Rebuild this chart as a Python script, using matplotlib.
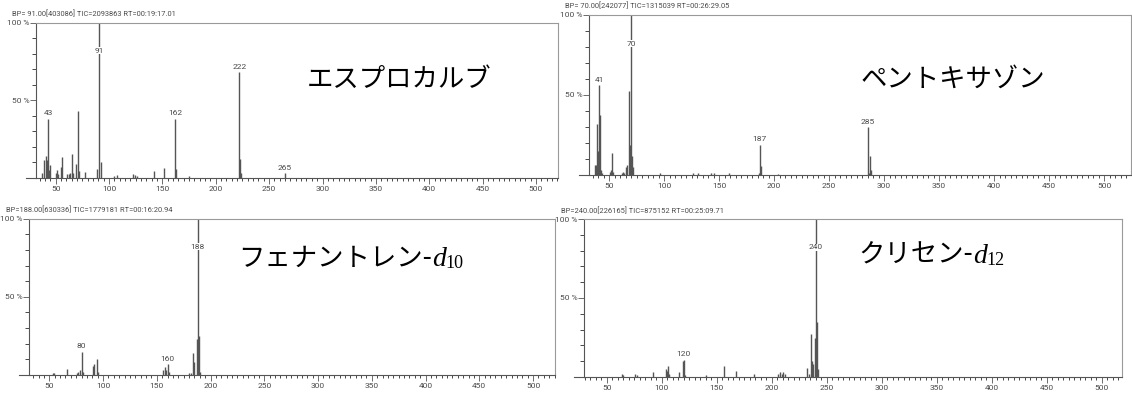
"""
Espectros de masas EI de cuatro compuestos (esprocarb, pentoxazona,
fenantreno-d10, criseno-d12), en el estilo de la salida del GC/MS.
"""
import numpy as np
import matplotlib; matplotlib.use("Agg")
import matplotlib.pyplot as plt
from matplotlib.ticker import MultipleLocator

W, H = 1132, 396

# ---- esprocarb ----
mz_a = [37, 39, 41, 42, 43, 44, 45, 50, 51, 52, 55, 56, 61, 62, 63, 65, 66, 69, 71, 72,
        77, 89, 91, 92, 105, 107, 122, 124, 126, 142, 151, 162, 163, 175, 222, 223, 224, 265]
ri_a = [3, 11, 14, 11, 38, 5, 8, 3, 5, 2, 7, 13, 2, 2, 3, 15, 3, 9, 43, 4.5,
        3.4, 5.5, 100, 10, 1, 1.5, 2, 1.5, 1, 4.3, 6.2, 38, 5.4, 1, 68, 12, 3, 3]
lab_a = [43, 91, 162, 222, 265]
hdr_a = "BP= 91.00[403086] TIC=2093863 RT=00:19:17.01"
name_a = "エスプロカルブ"

# ---- pentoxazone ----
mz_b = [37, 38, 39, 40, 41, 42, 43, 44, 51, 52, 53, 54, 62, 63, 64, 65, 66, 68, 69, 70,
        71, 72, 96, 126, 131, 143, 145, 159, 186, 187, 188, 204, 285, 286, 287, 288]
ri_b = [6, 6, 32, 15, 56, 37.5, 3, 1, 2, 3, 13.7, 2, 1, 2, 1, 5, 6, 52.7, 19, 100,
        12, 5, 1.5, 1, 1, 1, 1, 1, 1.5, 19, 5.6, 0.5, 30, 1, 12, 3]
lab_b = [41, 70, 187, 285]
hdr_b = "BP= 70.00[242077] TIC=1315039 RT=00:26:29.05"
name_b = "ペントキサゾン"

# ---- phenanthrene-d10 ----
mz_c = [53, 54, 66, 76, 77, 79, 80, 81, 91, 92, 94, 95, 156, 158, 159, 160, 161,
        180, 182, 184, 185, 187, 188, 189, 190]
ri_c = [1, 1, 3.6, 1, 2, 3, 15, 2, 6, 7, 10, 2, 3, 5, 3, 7, 2,
        1, 1, 14, 8, 23, 100, 25, 2]
lab_c = [80, 160, 188]
hdr_c = "BP=188.00[630336] TIC=1779181 RT=00:16:20.94"
name_c = "フェナントレン-"

# ---- chrysene-d12 ----
mz_d = [64, 65, 76, 78, 92, 104, 105, 106, 107, 116, 119, 120, 121, 140, 157, 168, 184,
        206, 208, 209, 210, 212, 232, 234, 236, 237, 238, 239, 240, 241, 242]
ri_d = [2, 1, 2, 1, 3, 5, 4, 7, 2, 3, 10, 11, 1, 1, 7, 4, 2,
        2, 3, 2, 3, 2, 6, 2, 27, 10, 8, 25, 100, 35, 5]
lab_d = [120, 240]
hdr_d = "BP=240.00[226165] TIC=875152 RT=00:25:09.71"
name_d = "クリセン-"

SMALL = ["Liberation Sans Narrow", "Roboto", "DejaVu Sans"]
JP = ["Noto Sans CJK JP", "DejaVu Sans"]
SERIF = ["Liberation Serif", "DejaVu Serif"]
plt.rcParams["font.family"] = SMALL
GREY = "#4a4a4a"

fig = plt.figure(figsize=(W/100, H/100), dpi=100)


def panel(rect, xlim, mz, ri, labels, header, hxy):
    x0, y0, x1, y1 = rect
    ax = fig.add_axes([x0/W, 1 - y1/H, (x1 - x0)/W, (y1 - y0)/H])
    ax.vlines(mz, 0, ri, color="#555555", lw=1.0)
    ax.set_xlim(*xlim); ax.set_ylim(0, 100)
    for m in labels:
        r = ri[mz.index(m)]
        if r >= 99:
            ax.text(m, 82, str(m), ha="center", va="center", fontsize=6, color=GREY,
                    bbox=dict(fc="white", ec="none", pad=0.4))
        else:
            ax.text(m, r + 1.5, str(m), ha="center", va="bottom", fontsize=6, color=GREY)
    ax.xaxis.set_major_locator(MultipleLocator(50))
    ax.xaxis.set_minor_locator(MultipleLocator(5))
    ax.set_yticks([50, 100], labels=["50 %", "100 %"])
    ax.yaxis.set_minor_locator(MultipleLocator(10))
    ax.tick_params(labelsize=6, labelcolor=GREY, color="#555555", width=0.6)
    ax.tick_params(axis="x", which="major", length=4, pad=2)
    ax.tick_params(axis="x", which="minor", length=1.8, width=0.5)
    ax.tick_params(axis="y", which="major", length=4, pad=0.5)
    ax.tick_params(axis="y", which="minor", length=3, width=0.5)
    for s in ("left", "bottom"):
        ax.spines[s].set_color("#555555"); ax.spines[s].set_linewidth(0.8)
    for s in ("top", "right"):
        ax.spines[s].set_color("#9a9a9a"); ax.spines[s].set_linewidth(0.8)
    # la linea base sobresale un poco a la izquierda del eje
    ax.plot([-10/(x1 - x0), 0], [0, 0], transform=ax.transAxes, clip_on=False,
            color="#555555", lw=0.8)
    fig.text(hxy[0]/W, 1 - hxy[1]/H, header, ha="left", va="center", fontsize=5.4, color=GREY)
    return ax


panel((36, 22.7, 558, 177.5), (31.5, 520.7), mz_a, ri_a, lab_a, hdr_a, (12, 14.5))
panel((589, 14.7, 1131, 175), (31.8, 524.5), mz_b, ri_b, lab_b, hdr_b, (565, 6))
panel((29, 218.7, 555, 375), (31.1, 520.4), mz_c, ri_c, lab_c, hdr_c, (6, 210.7))
ax_d = panel((584, 219, 1122, 377), (29.4, 518.5), mz_d, ri_d, lab_d, hdr_d, (561, 211))

# nombres de los compuestos
fig.text(399/W, 1 - 79/H, name_a, ha="center", va="center", fontsize=19, family=JP)
fig.text(953/W, 1 - 79/H, name_b, ha="center", va="center", fontsize=19, family=JP)


def deut_name(name, x, ybase, sub):
    fig.text(x/W, 1 - ybase/H, name, ha="right", va="baseline", fontsize=19, family=JP)
    td = fig.text(x/W, 1 - ybase/H, "d", ha="left", va="baseline", fontsize=20,
                  style="italic", family=SERIF)
    ax_d.annotate(sub, xy=(1, 0), xycoords=td, ha="left", va="bottom", fontsize=13,
                  family=SERIF, annotation_clip=False)


deut_name(name_c, 432, 266, "10")
deut_name(name_d, 973, 263, "12")

fig.savefig("out.png", dpi=100)
